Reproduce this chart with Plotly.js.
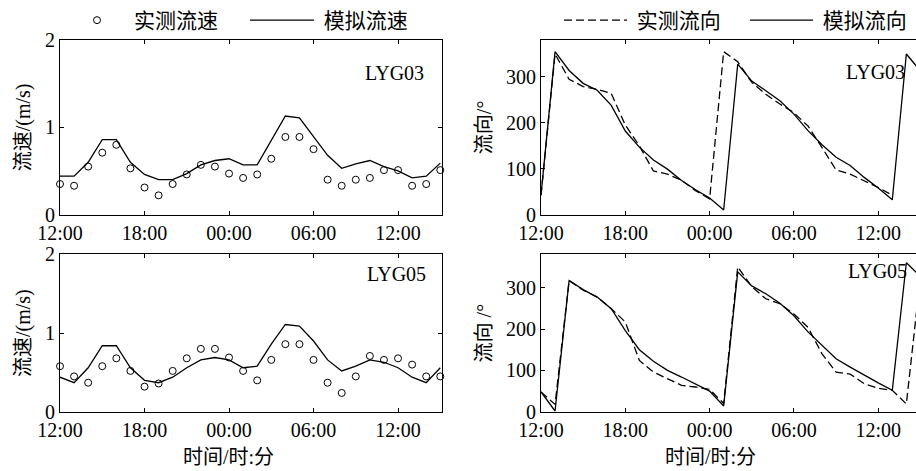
<!DOCTYPE html>
<html><head><meta charset="utf-8">
<script src="https://cdn.plot.ly/plotly-3.0.1.min.js"></script>
<style>html,body{margin:0;padding:0;overflow:hidden;background:#fff}</style>
</head><body><div id="chart" style="width:940px;height:471px"></div>
<script>
// ---- data ----
const hours = [0,1,2,3,4,5,6,7,8,9,10,11,12,13,14,15,16,17,18,19,20,21,22,23,24,25,26,27];
const hoursObs03Dir = [0,1,2,3,4,5,6,7,8,9,10,11,12,13,14,15,16,17,18,19,20,21,22,23,24,25];
const tickHours = [0,6,12,18,24];
const tickLabels = ["12:00","18:00","00:00","06:00","12:00"];

const speed03Obs = [0.35,0.33,0.55,0.71,0.80,0.53,0.31,0.22,0.35,0.46,0.57,0.55,0.47,0.42,0.46,0.64,0.89,0.89,0.75,0.40,0.33,0.40,0.42,0.51,0.51,0.33,0.35,0.51];
const speed03Sim = [0.44,0.44,0.60,0.86,0.86,0.60,0.46,0.40,0.40,0.47,0.57,0.62,0.64,0.57,0.57,0.85,1.13,1.11,0.89,0.68,0.53,0.58,0.62,0.55,0.50,0.42,0.44,0.59];
const speed05Obs = [0.58,0.45,0.37,0.58,0.68,0.52,0.32,0.36,0.52,0.68,0.80,0.80,0.69,0.52,0.40,0.66,0.86,0.86,0.66,0.37,0.24,0.45,0.71,0.66,0.68,0.60,0.45,0.45];
const speed05Sim = [0.44,0.37,0.56,0.84,0.84,0.56,0.40,0.37,0.44,0.56,0.66,0.69,0.66,0.56,0.58,0.86,1.11,1.09,0.90,0.66,0.52,0.58,0.66,0.63,0.56,0.44,0.37,0.56];

const dir03Obs = [42,350,295,279,273,264,195,150,95,88,75,52,34,355,333,288,262,241,222,193,146,97,88,74,59,42];
const dir03Sim = [42,355,314,286,271,238,182,147,119,99,74,54,36,10,328,291,270,248,219,183,152,125,107,81,58,32,350,313];
const dir05Obs = [48,18,317,294,277,249,217,124,96,80,64,60,54,20,350,302,273,261,236,204,140,96,91,68,57,52,19,326];
const dir05Sim = [48,2,317,295,277,249,196,150,122,100,84,66,50,14,338,304,285,262,232,193,160,128,108,88,70,52,360,327];

const speedNames = ["实测流速","模拟流速"];
const dirNames = ["实测流向","模拟流向"];
const stationLabels = ["LYG03","LYG05"];

// ---- layout helpers ----
const W = 940, H = 471;
const px = v => v / W;
const py = v => 1 - v / H;
const domL = [px(60), px(441.7)];
const domR = [px(541), px(920.4)];
const domT = [py(214), py(39.3)];
const domB = [py(411.7), py(254)];

const serif = "Liberation Serif, Times New Roman, serif";
const mixed = "Liberation Serif, Noto Sans CJK SC, serif";
const black = "#000";
const gap = "\u00A0";

const obsMarker = {symbol:"circle-open", size:7, color:black, line:{width:1, color:black}};
const simLine = {color:black, width:1.3};
const obsDash = {color:black, width:1.3, dash:"8px,4px"};

const traces = [
  {x:hours, y:speed03Obs, xaxis:"x", yaxis:"y", mode:"markers", marker:obsMarker, name:speedNames[0], legend:"legend", cliponaxis:false},
  {x:hours, y:speed03Sim, xaxis:"x", yaxis:"y", mode:"lines", line:simLine, name:gap + speedNames[1], legend:"legend"},
  {x:hours, y:speed05Obs, xaxis:"x3", yaxis:"y3", mode:"markers", marker:obsMarker, name:speedNames[0], showlegend:false, cliponaxis:false},
  {x:hours, y:speed05Sim, xaxis:"x3", yaxis:"y3", mode:"lines", line:simLine, name:speedNames[1], showlegend:false},
  {x:hoursObs03Dir, y:dir03Obs, xaxis:"x2", yaxis:"y2", mode:"lines", line:obsDash, name:gap + dirNames[0], legend:"legend2"},
  {x:hours, y:dir03Sim, xaxis:"x2", yaxis:"y2", mode:"lines", line:simLine, name:gap + dirNames[1], legend:"legend2"},
  {x:hours, y:dir05Obs, xaxis:"x4", yaxis:"y4", mode:"lines", line:obsDash, name:dirNames[0], showlegend:false},
  {x:hours, y:dir05Sim, xaxis:"x4", yaxis:"y4", mode:"lines", line:simLine, name:dirNames[1], showlegend:false}
];

function axBase(extra){
  return Object.assign({
    showline:true, linecolor:black, linewidth:1, mirror:"ticks",
    ticks:"inside", ticklen:4, tickwidth:1, tickcolor:black,
    showgrid:false, zeroline:false,
    tickfont:{family:serif, size:20, color:black}
  }, extra);
}
function xAx(dom, anchor, rng){
  return axBase({domain:dom, anchor:anchor, range:rng, tickmode:"array", tickvals:tickHours, ticktext:tickLabels});
}
function yAx(dom, anchor, rng, vals, title){
  return axBase({domain:dom, anchor:anchor, range:rng, tickmode:"array", tickvals:vals,
    title:{text:title, font:{family:mixed, size:20, color:black}, standoff:8}});
}

const legendFont = {family:"Noto Sans CJK SC", size:21, color:black};

const layout = {
  width:W, height:H,
  margin:{l:0,r:0,t:0,b:0,pad:0},
  paper_bgcolor:"#fff", plot_bgcolor:"#fff",
  font:{family:mixed, color:black},
  xaxis: xAx(domL, "y", [0, 27.1]),
  yaxis: yAx(domT, "x", [0, 2], [0,1,2], "流速/(m/s)"),
  xaxis2: xAx(domR, "y2", [0, 27]),
  yaxis2: yAx(domT, "x2", [0, 380], [0,100,200,300], "流向/°"),
  xaxis3: xAx(domL, "y3", [0, 27.1]),
  yaxis3: yAx(domB, "x3", [0, 2], [0,1,2], "流速/(m/s)"),
  xaxis4: xAx(domR, "y4", [0, 27]),
  yaxis4: yAx(domB, "x4", [0, 380], [0,100,200,300], "流向 /°"),
  legend:{orientation:"h", x:px(60), xanchor:"left", y:py(20), yanchor:"middle",
    font:legendFont, itemwidth:64, entrywidth:106,
    bgcolor:"rgba(0,0,0,0)", borderwidth:0, traceorder:"normal"},
  legend2:{orientation:"h", x:px(559), xanchor:"left", y:py(20), yanchor:"middle",
    font:legendFont, itemwidth:63, entrywidth:108,
    bgcolor:"rgba(0,0,0,0)", borderwidth:0, traceorder:"normal"},
  annotations:[
    {text:stationLabels[0], xref:"x domain", yref:"y domain", x:0.7938, y:0.8146, xanchor:"left", yanchor:"middle", showarrow:false, font:{family:serif, size:20, color:black}},
    {text:stationLabels[0], xref:"x2 domain", yref:"y2 domain", x:0.7994, y:0.8203, xanchor:"left", yanchor:"middle", showarrow:false, font:{family:serif, size:20, color:black}},
    {text:stationLabels[1], xref:"x3 domain", yref:"y3 domain", x:0.799, y:0.8776, xanchor:"left", yanchor:"middle", showarrow:false, font:{family:serif, size:20, color:black}},
    {text:stationLabels[1], xref:"x4 domain", yref:"y4 domain", x:0.8039, y:0.894, xanchor:"left", yanchor:"middle", showarrow:false, font:{family:serif, size:20, color:black}},
    {text:"时间/时:分", xref:"paper", yref:"paper", x:px(228), y:py(456.7), xanchor:"center", yanchor:"middle", showarrow:false, font:{family:mixed, size:20, color:black}},
    {text:"时间/时:分", xref:"paper", yref:"paper", x:px(710), y:py(456.7), xanchor:"center", yanchor:"middle", showarrow:false, font:{family:mixed, size:20, color:black}}
  ]
};

Plotly.newPlot("chart", traces, layout, {displayModeBar:false, staticPlot:true});
</script>
</body></html>
